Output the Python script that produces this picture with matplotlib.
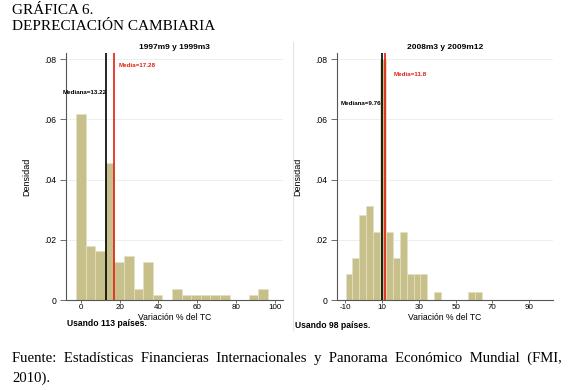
import numpy as np
import matplotlib
matplotlib.use("Agg")
import matplotlib.pyplot as plt
from matplotlib.lines import Line2D

# Datos (densidades de los histogramas)
izq_inicio = -2.4          # borde izquierdo del primer bin
izq_ancho = 4.95           # ancho de cada bin
izq_densidad = [0.0617, 0.0180, 0.0163, 0.0454, 0.0127, 0.0145, 0.0037, 0.0127,
                0.0018, 0.0, 0.0037, 0.0018, 0.0018, 0.0018, 0.0018, 0.0018,
                0.0, 0.0, 0.0018, 0.0037]
izq_mediana = 13.22
izq_media = 17.28
izq_titulo = "1997m9 y 1999m3"
izq_nota = "Usando 113 países."
izq_xticks = [0, 20, 40, 60, 80, 100]

der_inicio = -9.8
der_ancho = 3.7
der_densidad = [0.0085, 0.0138, 0.0282, 0.0312, 0.0227, 0.0800, 0.0227, 0.0138,
                0.0227, 0.0085, 0.0085, 0.0085, 0.0, 0.0028, 0.0, 0.0, 0.0, 0.0,
                0.0028, 0.0028]
der_mediana = 9.76
der_media = 11.8
der_titulo = "2008m3 y 2009m12"
der_nota = "Usando 98 países."
der_xticks = [-10, 10, 30, 50, 70, 90]

yticks = [0, 0.02, 0.04, 0.06, 0.08]
ytick_labels = ["0", ".02", ".04", ".06", ".08"]

plt.rcParams['font.family'] = ['Liberation Sans', 'DejaVu Sans']
plt.rcParams['axes.unicode_minus'] = False

W, H = 575, 390
fig = plt.figure(figsize=(W/100, H/100), dpi=100)

def caja(x0, y0, x1, y1):
  # convierte pixeles (desde arriba) a fraccion de figura
  return [x0/W, 1 - y1/H, (x1 - x0)/W, (y1 - y0)/H]

def histograma(ax, inicio, ancho, dens, mediana, media, titulo, xticks, xlim,
               y_med, y_mean, dx_mean):
  bordes = inicio + ancho*np.arange(len(dens))
  ax.bar(bordes, dens, width=ancho, align='edge', color='#c8c08a',
         edgecolor='#e4e0c4', linewidth=0.5, zorder=2)
  ax.axvline(mediana, color='black', lw=1.2, zorder=3)
  ax.axvline(media, color='#e02010', lw=1.2, zorder=3)
  ax.annotate("Mediana=%s" % mediana, (mediana, y_med), ha='right', va='center',
              fontsize=4.5, fontweight='bold', color='black')
  ax.annotate("Media=%s" % media, (media, y_mean), xytext=(dx_mean, 0),
              textcoords='offset points', ha='left', va='center',
              fontsize=4.5, fontweight='bold', color='#e02010')
  ax.set_xlim(*xlim)
  ax.set_ylim(0, 0.082)
  ax.set_xticks(xticks)
  ax.set_yticks(yticks)
  ax.set_yticklabels(ytick_labels)
  ax.grid(axis='y', color='#e6ecef', lw=0.6, zorder=0)
  for s in ['top', 'right']:
    ax.spines[s].set_visible(False)
  for s in ['left', 'bottom']:
    ax.spines[s].set_color('#555555')
    ax.spines[s].set_linewidth(0.8)
  ax.tick_params(axis='x', labelsize=5.8, length=2.5, width=0.6,
                 color='#555555', pad=0.3)
  ax.tick_params(axis='y', labelsize=6.2, length=4, width=0.6,
                 color='#555555', pad=3)
  ax.set_title(titulo, fontsize=6, fontweight='bold', pad=3)
  ax.set_xlabel("Variación % del TC", fontsize=6.2, va='center')
  ax.xaxis.set_label_coords(0.5, -17/247)
  ax.set_ylabel("Densidad", fontsize=6.5, labelpad=9)

ax1 = fig.add_axes(caja(66, 53, 283, 300))
histograma(ax1, izq_inicio, izq_ancho, izq_densidad, izq_mediana, izq_media,
           izq_titulo, izq_xticks, (-7.6, 104.3), 0.069, 0.078, 3)

ax2 = fig.add_axes(caja(337, 53, 553, 300))
histograma(ax2, der_inicio, der_ancho, der_densidad, der_mediana, der_media,
           der_titulo, der_xticks, (-14.5, 103), 0.0653, 0.075, 6)

# notas debajo de cada grafica
fig.text(67/W, 1 - 324/H, izq_nota, fontsize=6.2, fontweight='bold', va='center')
fig.text(295/W, 1 - 326/H, der_nota, fontsize=6.2, fontweight='bold', va='center')

# linea separadora entre graficas
fig.add_artist(Line2D([293/W, 293/W], [1 - 42/H, 1 - 330/H], color='#e4e4e4', lw=0.8))

# encabezado y fuente
serif = ['Liberation Serif', 'DejaVu Serif']
fig.text(12/W, 1 - 10/H, "GRÁFICA 6.", family=serif, fontsize=11, va='center')
fig.text(12/W, 1 - 27/H, "DEPRECIACIÓN CAMBIARIA", family=serif, fontsize=11, va='center')
fig.text(12/W, 1 - 358/H,
         "Fuente:  Estadísticas  Financieras  Internacionales  y  Panorama  Económico  Mundial  (FMI,",
         family=serif, fontsize=10.6, va='center')
fig.text(12/W, 1 - 378/H, "2010).", family=serif, fontsize=10.6, va='center')

fig.savefig("out.png", dpi=100)
